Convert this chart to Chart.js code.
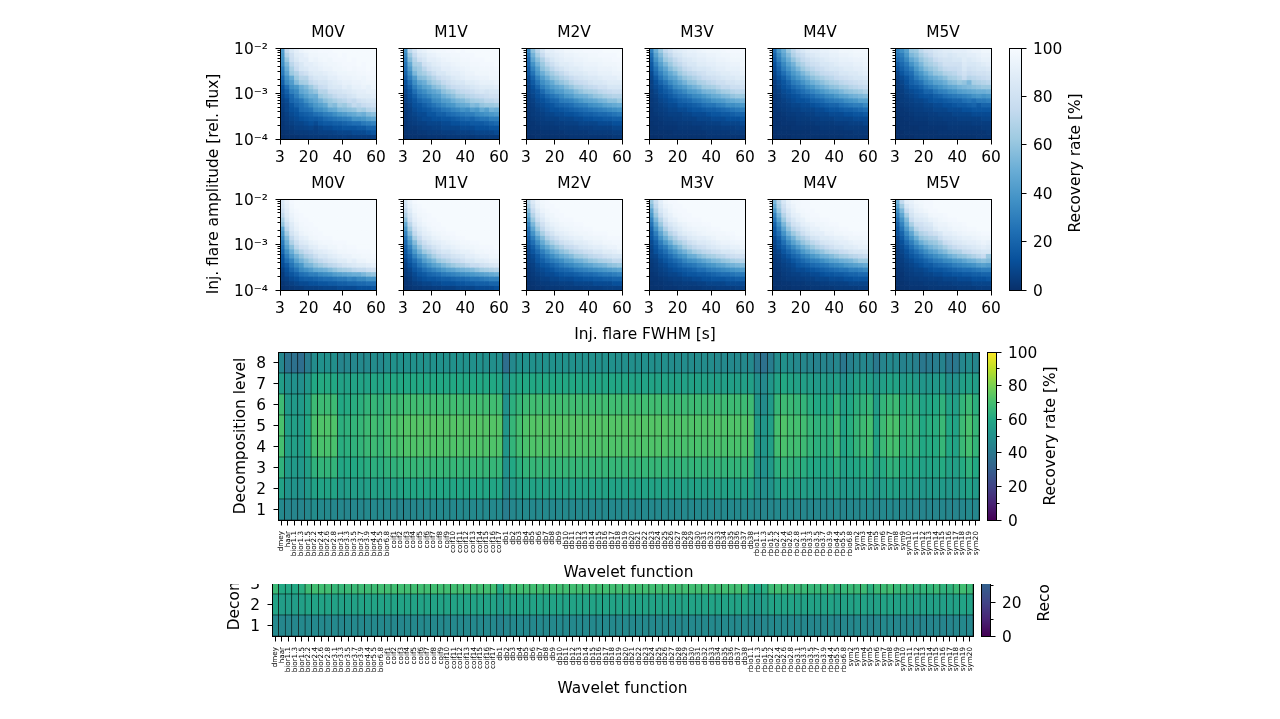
<!DOCTYPE html>
<html>
<head>
<meta charset="utf-8">
<title>Flare recovery rates</title>
<script src="https://cdn.jsdelivr.net/npm/chart.js@4"></script>
<style>
  html, body { margin: 0; background: #fff; overflow: hidden; }
  #page { position: relative; width: 1280px; height: 719px; font-family: "DejaVu Sans"; color: #000; filter: blur(0.45px); }
  #page canvas { position: absolute; }
  #lowerClip { position: absolute; left: 0; top: 584px; width: 1280px; height: 135px; overflow: hidden; }
  .lbl { position: absolute; font-size: 15.4px; white-space: nowrap; transform: translate(-50%, -50%); }
  .vert { transform: translate(-50%, -50%) rotate(-90deg); }
</style>
</head>
<body>
<div id="page">
  <div class="lbl vert" style="left:213px;top:184px">Inj. flare amplitude [rel. flux]</div>
  <div class="lbl" style="left:645px;top:334px">Inj. flare FWHM [s]</div>
  <div id="lowerClip"></div>
</div>
<script>
// axes of the small panels
const fwhmEdges = [3,5.85,8.7,11.55,14.4,17.25,20.1,22.95,25.8,28.65,31.5,34.35,37.2,40.05,42.9,45.75,48.6,51.45,54.3,57.15,60];
const ampEdges = [1e-4,1.26e-4,1.58e-4,2e-4,2.51e-4,3.16e-4,3.98e-4,5.01e-4,6.31e-4,7.94e-4,1e-3,1.26e-3,1.58e-3,2e-3,2.51e-3,3.16e-3,3.98e-3,5.01e-3,6.31e-3,7.94e-3,1e-2];
const fwhmTicks = [3,20,40,60];
const starTypes = ["M0V","M1V","M2V","M3V","M4V","M5V"];

// recovery rate, rows written from the highest amplitude down
const m0vUpper = [
[42,75,85,90,94,96,97,97,98,98,98,99,99,99,99,99,99,99,99,99],
[40,70,80,88,90,93,96,96,97,97,98,98,99,98,99,99,99,99,99,99],
[38,62,78,85,90,90,95,94,96,97,96,98,98,98,99,98,99,99,99,99],
[36,55,72,80,85,90,90,92,94,95,96,96,97,98,98,98,99,98,99,99],
[30,50,66,76,84,86,90,90,92,94,94,96,96,97,98,97,98,98,99,98],
[28,45,62,68,76,80,86,88,88,90,92,93,95,95,96,96,97,97,98,98],
[22,38,48,62,70,70,80,84,86,86,90,90,93,94,94,95,96,95,97,97],
[18,34,42,56,64,66,74,78,82,82,86,88,90,92,92,94,94,95,96,96],
[12,24,36,40,50,55,62,70,76,78,84,86,86,90,88,92,92,94,92,95],
[10,18,30,34,46,50,56,60,70,70,78,80,82,84,86,88,90,90,92,92],
[8,14,22,30,38,44,50,50,62,66,70,74,78,78,82,84,88,88,88,90],
[6,10,20,24,28,36,42,46,52,58,62,66,70,72,76,74,80,82,84,84],
[5,8,14,20,24,28,34,40,44,48,58,56,64,62,68,74,72,76,78,80],
[4,8,12,14,22,24,26,34,36,40,46,48,54,56,58,60,66,64,70,72],
[3,6,10,12,16,18,20,24,26,30,32,36,40,42,46,48,52,50,56,58],
[3,5,8,10,12,14,16,16,18,22,24,26,28,30,32,38,38,40,44,46],
[2,4,6,8,8,10,12,10,14,16,16,18,18,20,22,24,24,28,30,32],
[2,3,4,6,6,7,8,6,8,10,10,12,12,14,14,14,16,16,20,20],
[1,2,3,4,4,4,5,5,6,6,6,7,8,8,8,10,10,10,12,14],
[0,1,1,1,2,2,3,3,3,3,4,4,4,5,4,5,5,5,5,6]];
const m1vUpper = [
[38,72,82,90,92,95,96,97,97,98,98,99,98,99,99,99,99,99,99,99],
[34,62,76,86,88,92,93,95,96,96,97,97,98,98,98,99,99,99,99,99],
[30,56,70,80,84,90,90,92,94,95,96,96,97,97,98,98,98,99,99,99],
[26,48,66,68,80,84,88,90,92,92,94,95,96,96,97,97,98,98,98,99],
[24,42,60,64,72,80,84,86,90,90,92,93,94,95,96,96,97,97,97,98],
[20,36,54,62,66,72,78,84,84,88,90,90,92,94,94,96,96,96,97,97],
[16,30,42,56,58,64,70,76,80,82,86,88,90,92,92,93,94,94,96,96],
[12,24,36,46,50,58,64,68,74,78,82,84,84,88,88,90,92,92,92,94],
[10,18,30,38,44,48,56,60,66,72,76,78,80,82,84,86,88,88,88,90],
[8,14,24,32,36,42,46,50,58,62,66,72,74,76,78,82,84,82,84,84],
[6,12,18,26,30,34,40,42,50,54,58,64,66,70,72,74,76,78,80,80],
[6,10,14,20,24,26,34,36,42,44,50,54,56,60,64,66,68,72,72,74],
[4,8,12,14,18,22,26,30,34,38,40,46,48,50,56,54,60,62,62,64],
[4,6,10,12,14,16,20,22,26,28,32,34,38,36,42,40,48,44,52,50],
[3,6,8,10,10,14,14,18,18,22,24,26,28,30,30,34,36,38,40,42],
[3,5,6,8,10,10,12,12,14,14,16,18,20,22,20,24,26,26,30,30],
[2,4,5,6,6,8,8,8,10,10,12,12,14,14,16,16,16,18,20,22],
[2,3,3,4,5,5,6,6,8,8,8,8,10,10,10,12,12,12,14,14],
[1,2,2,3,3,4,4,4,5,5,5,6,6,6,7,8,8,8,8,10],
[0,1,1,1,1,2,2,2,2,3,3,3,3,3,3,4,4,4,4,4]];
const m2vUpper = [
[32,58,72,82,90,90,93,94,96,96,97,97,98,98,98,98,99,99,99,99],
[26,52,66,76,86,88,90,92,94,94,95,96,96,97,97,98,98,98,98,99],
[22,46,58,68,78,84,88,90,92,92,94,94,95,96,96,96,97,97,98,98],
[20,38,52,62,72,78,84,88,88,90,92,92,94,94,94,95,96,96,96,97],
[16,32,44,58,64,72,78,82,86,88,88,90,92,92,92,94,94,94,95,96],
[14,26,40,50,58,64,70,74,80,84,86,86,88,90,90,92,92,92,94,94],
[10,20,32,42,50,58,62,68,72,76,80,82,84,86,86,88,90,90,90,92],
[8,16,26,36,42,48,56,60,64,70,74,76,78,82,84,84,86,88,88,88],
[6,12,20,30,36,42,46,50,56,60,66,68,72,74,76,80,80,84,84,84],
[6,10,14,22,30,34,40,42,48,50,56,60,64,66,68,72,74,76,78,78],
[4,8,12,16,22,26,30,34,40,42,48,50,52,56,60,62,66,68,70,70],
[4,6,10,12,16,20,22,28,30,32,36,40,44,46,48,52,54,58,58,62],
[3,5,8,10,12,14,18,20,22,24,28,30,32,36,38,40,44,46,48,50],
[3,4,6,8,10,12,12,14,16,18,20,22,24,26,28,30,32,34,36,38],
[2,4,5,6,8,8,10,10,12,12,14,16,18,18,20,22,22,24,26,28],
[2,3,4,5,6,6,6,8,8,8,10,10,12,12,14,14,16,16,18,18],
[2,2,3,4,4,4,5,5,6,6,6,8,8,8,8,10,10,10,12,12],
[1,2,2,3,3,3,3,4,4,4,4,5,5,5,6,6,6,6,8,8],
[1,1,1,2,2,2,2,2,3,3,3,3,3,4,4,4,4,4,5,5],
[0,0,1,1,1,1,1,1,1,2,2,2,2,2,2,2,2,2,3,3]];
const m3vUpper = [
[30,50,62,74,80,86,88,90,92,92,94,95,96,96,96,97,98,98,98,98],
[24,44,56,68,74,82,84,88,90,90,92,92,94,94,95,96,96,97,97,97],
[20,38,50,62,68,74,80,84,86,88,90,90,92,92,94,94,95,96,96,96],
[16,32,44,54,62,70,74,80,84,84,88,88,90,90,92,92,93,94,94,96],
[14,26,38,46,56,62,68,74,78,82,84,84,86,88,90,90,92,92,92,94],
[10,22,32,40,48,54,62,68,72,74,78,80,84,84,86,88,88,90,90,92],
[8,16,26,34,42,46,54,60,64,68,72,76,78,80,82,84,86,86,88,88],
[6,12,20,26,34,40,46,52,58,60,66,68,72,74,78,78,82,82,84,84],
[6,10,14,20,26,34,38,42,48,52,56,62,64,66,70,74,74,78,78,80],
[4,8,12,16,20,26,30,34,40,42,46,52,54,56,60,64,66,70,72,72],
[4,6,10,12,16,20,24,26,30,34,36,40,44,48,50,54,56,60,62,62],
[3,5,8,10,12,14,18,20,22,26,28,32,34,38,40,42,46,48,50,52],
[3,4,6,8,10,10,14,14,16,18,20,24,26,26,30,32,36,36,38,40],
[2,4,5,6,8,8,10,10,12,14,14,16,18,18,20,22,24,26,28,30],
[2,3,4,5,6,6,6,8,8,10,10,10,12,14,14,16,16,18,20,20],
[2,2,3,4,4,5,5,6,6,6,8,8,8,10,10,10,12,12,12,14],
[1,2,2,3,3,3,4,4,4,5,5,5,6,6,6,8,8,8,8,10],
[1,1,2,2,2,2,3,3,3,3,3,4,4,4,4,5,5,5,6,6],
[1,1,1,1,1,2,2,2,2,2,2,2,3,3,3,3,3,4,4,4],
[0,0,0,1,1,1,1,1,1,1,1,1,2,2,2,2,2,2,2,2]];
const m4vUpper = [
[24,40,50,62,72,80,84,88,90,90,92,92,94,94,96,96,96,97,97,97],
[20,34,46,56,68,74,78,84,86,88,90,90,92,92,94,94,95,96,96,96],
[16,30,40,50,60,68,74,78,82,84,86,88,90,90,92,92,93,94,94,95],
[12,24,34,44,52,62,68,74,78,80,84,84,86,88,90,90,90,92,92,94],
[10,20,30,38,46,54,62,68,72,76,78,82,84,84,86,88,88,90,90,92],
[8,16,24,32,40,46,54,60,66,70,74,76,78,80,84,84,86,86,88,90],
[6,12,18,26,34,40,46,52,58,62,66,70,72,76,78,80,82,84,84,86],
[5,10,14,20,28,32,38,44,50,54,58,62,66,68,72,74,76,78,80,82],
[4,8,12,16,22,26,30,36,40,46,50,54,58,60,64,66,70,72,74,76],
[4,6,10,12,16,20,24,28,32,36,40,44,48,50,54,58,60,62,64,68],
[3,5,8,10,12,14,18,20,24,28,30,34,36,40,44,46,50,52,54,56],
[3,4,6,8,10,12,12,14,18,20,22,26,28,30,32,36,38,40,44,44],
[2,4,5,6,8,8,10,10,12,14,16,18,20,20,24,26,28,30,30,34],
[2,3,4,5,6,6,8,8,8,10,10,12,14,14,16,18,18,20,22,24],
[2,2,3,4,4,5,5,6,6,8,8,8,10,10,10,12,12,14,14,16],
[1,2,2,3,3,4,4,4,5,5,6,6,6,8,8,8,8,10,10,10],
[1,1,2,2,2,3,3,3,3,4,4,4,4,5,5,5,6,6,6,8],
[1,1,1,1,2,2,2,2,2,2,3,3,3,3,3,4,4,4,4,4],
[0,1,1,1,1,1,1,1,2,2,2,2,2,2,2,2,2,3,3,3],
[0,0,0,0,1,1,1,1,1,1,1,1,1,1,1,2,2,2,2,2]];
const m5vUpper = [
[30,36,44,60,62,72,78,80,84,86,88,88,90,90,90,92,94,94,96,96],
[26,30,40,54,58,66,72,76,82,84,86,84,86,88,88,90,90,92,94,94],
[22,26,34,46,52,60,66,70,76,80,82,82,84,84,88,86,88,90,92,92],
[16,22,28,38,46,54,62,66,70,74,80,80,80,80,86,84,84,86,88,90],
[12,18,24,30,40,48,56,60,64,70,74,76,76,78,84,80,82,84,84,86],
[8,14,20,24,34,40,48,54,60,62,68,70,72,76,80,76,78,80,80,82],
[6,10,14,20,28,34,40,46,50,54,58,64,66,70,76,70,72,74,76,78],
[4,8,12,18,22,26,34,38,44,46,50,56,58,62,60,54,66,68,70,72],
[4,6,10,14,16,20,26,30,34,38,42,46,48,52,54,56,58,60,62,62],
[3,5,8,10,12,14,20,20,26,30,32,36,38,42,44,46,48,50,50,52],
[3,4,6,8,10,12,14,14,18,20,24,26,28,30,32,34,38,40,38,40],
[2,4,5,6,8,8,10,12,14,14,16,18,20,20,24,26,24,28,28,30],
[2,3,4,5,6,6,8,8,10,10,12,12,14,16,16,18,20,16,20,20],
[2,2,3,4,5,5,6,6,8,8,8,10,10,10,12,12,14,14,14,14],
[1,2,2,3,4,4,4,5,5,6,6,6,8,8,8,8,10,10,10,10],
[1,1,2,2,3,3,3,4,4,4,5,5,5,6,6,6,6,6,8,8],
[1,1,1,2,2,2,2,3,3,3,3,4,4,4,4,4,5,5,5,5],
[0,1,1,1,1,2,2,2,2,2,2,3,3,3,3,3,3,3,4,4],
[0,0,1,1,1,1,1,1,1,2,2,2,2,2,2,2,2,2,2,3],
[0,0,0,0,1,1,1,1,1,1,1,1,1,1,1,1,1,2,2,2]];
const m0vLower = [
[86,94,98,99,99,99,99,99,99,99,99,99,99,99,99,99,99,99,99,99],
[84,92,97,99,99,99,99,99,99,99,99,99,99,99,99,99,99,99,99,99],
[80,90,96,98,99,99,99,99,99,99,99,99,99,99,99,99,99,99,99,99],
[74,88,94,97,98,99,99,99,99,99,99,99,99,99,99,99,99,99,99,99],
[66,84,92,96,98,98,99,99,99,99,99,99,99,99,99,99,99,99,99,99],
[60,78,88,94,97,98,98,99,99,99,99,99,99,99,99,99,99,99,99,99],
[46,72,86,92,96,97,98,98,99,99,99,99,99,99,99,99,99,99,99,99],
[40,64,82,88,94,96,97,98,98,99,99,99,99,99,99,99,99,99,99,99],
[34,56,74,84,90,92,96,97,98,98,98,99,99,99,99,99,99,99,99,99],
[28,50,68,78,86,88,92,94,96,97,97,98,98,98,99,99,99,99,99,99],
[24,44,58,72,80,82,88,90,94,94,96,96,98,97,98,98,99,99,99,99],
[20,36,50,62,70,76,80,86,88,90,92,94,96,96,97,97,98,98,98,99],
[14,30,42,52,60,68,72,78,84,84,88,90,92,94,94,96,96,97,97,98],
[12,24,32,44,52,58,64,70,74,78,82,84,88,88,92,90,94,94,96,96],
[10,16,26,34,40,52,54,60,64,68,72,74,78,82,84,86,88,88,90,92],
[6,12,20,26,34,38,42,48,50,52,56,60,64,66,68,72,74,74,78,80],
[4,10,14,18,24,26,30,30,34,36,38,42,44,46,48,50,50,54,58,60],
[4,6,10,12,16,18,18,20,22,24,24,26,28,28,32,30,34,34,38,38],
[2,4,6,8,10,10,12,12,14,14,16,16,18,18,20,20,22,22,24,24],
[1,2,3,4,4,6,6,6,7,8,8,8,10,10,10,10,12,12,12,14]];
const m1vLower = [
[84,94,98,99,99,99,99,99,99,99,99,99,99,99,99,99,99,99,99,99],
[80,92,96,98,99,99,99,99,99,99,99,99,99,99,99,99,99,99,99,99],
[74,88,95,97,98,99,99,99,99,99,99,99,99,99,99,99,99,99,99,99],
[68,84,92,96,97,98,99,99,99,99,99,99,99,99,99,99,99,99,99,99],
[58,80,90,94,97,98,98,99,99,99,99,99,99,99,99,99,99,99,99,99],
[48,72,86,92,95,97,98,98,99,99,99,99,99,99,99,99,99,99,99,99],
[40,64,80,88,92,95,97,98,98,99,99,99,99,99,99,99,99,99,99,99],
[32,56,74,84,90,92,95,96,97,98,98,99,99,99,99,99,99,99,99,99],
[26,46,66,76,86,88,92,94,96,96,97,98,98,99,99,99,99,99,99,99],
[22,40,56,70,78,84,88,90,92,94,95,96,97,97,98,98,99,99,99,99],
[18,32,48,60,72,76,82,86,90,90,92,94,95,96,96,97,98,98,98,99],
[14,26,40,52,62,68,74,80,84,84,88,90,92,92,94,96,96,97,97,98],
[12,20,32,42,50,58,66,72,76,78,82,84,86,90,90,92,94,94,96,96],
[8,16,24,32,42,48,54,62,66,70,74,76,80,84,84,88,88,90,92,92],
[6,12,18,26,32,38,44,48,54,58,62,66,68,72,76,76,80,82,84,86],
[4,8,14,18,24,28,32,36,40,44,46,50,52,54,56,60,64,66,68,70],
[4,6,10,14,16,20,22,24,28,30,32,34,36,38,40,42,44,46,48,50],
[2,4,8,10,12,14,14,16,18,18,20,22,22,24,26,26,28,30,32,32],
[2,3,5,6,8,8,10,10,12,12,12,14,14,16,16,18,18,18,20,20],
[1,2,3,3,4,4,5,5,6,6,6,8,8,8,8,10,10,10,10,12]];
const m2vLower = [
[70,86,94,97,98,99,99,99,99,99,99,99,99,99,99,99,99,99,99,99],
[64,82,92,96,98,98,99,99,99,99,99,99,99,99,99,99,99,99,99,99],
[56,76,88,94,96,98,98,99,99,99,99,99,99,99,99,99,99,99,99,99],
[48,70,84,90,95,96,98,98,99,99,99,99,99,99,99,99,99,99,99,99],
[40,62,78,86,92,95,96,98,98,98,99,99,99,99,99,99,99,99,99,99],
[32,54,70,80,88,92,94,96,97,97,98,98,99,99,99,99,99,99,99,99],
[26,46,62,74,84,88,92,94,95,96,97,97,98,98,99,99,99,99,99,99],
[22,38,54,66,76,82,88,90,92,94,95,96,96,97,98,98,98,99,99,99],
[18,30,44,56,68,74,80,86,88,90,92,92,95,95,96,96,97,98,98,98],
[14,24,36,48,58,66,72,78,82,84,88,88,90,92,94,94,96,96,97,97],
[10,18,28,40,48,56,62,68,74,76,80,84,86,88,90,90,92,94,94,96],
[8,14,22,30,38,46,52,58,62,68,72,74,78,80,84,84,88,88,90,92],
[6,10,16,24,30,36,42,48,52,56,62,64,68,72,74,76,80,82,84,84],
[6,8,14,18,24,28,32,36,42,44,50,52,56,60,62,66,68,70,74,74],
[4,6,10,14,16,20,24,28,32,34,38,40,44,46,50,52,54,58,60,62],
[3,5,8,10,12,14,18,20,22,24,28,30,32,34,36,38,40,42,44,46],
[2,4,6,8,10,10,12,14,16,16,18,20,22,22,24,26,28,28,30,32],
[2,3,4,6,6,8,8,10,10,10,12,12,14,14,16,16,18,18,20,20],
[1,2,3,4,4,5,5,6,6,6,8,8,8,8,10,10,10,10,12,12],
[1,1,2,2,3,3,3,3,4,4,4,4,5,5,5,5,6,6,6,6]];
const m3vLower = [
[62,78,90,96,98,98,99,99,99,99,99,99,99,99,99,99,99,99,99,99],
[56,74,88,94,96,98,98,99,99,99,99,99,99,99,99,99,99,99,99,99],
[46,68,84,90,95,97,98,98,99,99,99,99,99,99,99,99,99,99,99,99],
[40,62,78,88,92,96,97,98,98,99,99,99,99,99,99,99,99,99,99,99],
[32,54,70,82,90,92,96,97,98,98,98,99,99,99,99,99,99,99,99,99],
[26,46,62,76,84,88,92,94,96,97,97,98,98,99,99,99,99,99,99,99],
[20,38,54,68,78,84,88,92,94,95,96,96,97,98,98,99,99,99,99,99],
[16,30,46,58,70,76,84,88,90,92,94,95,96,96,97,97,98,98,99,99],
[14,24,38,50,60,68,76,80,86,88,90,90,92,94,96,96,96,97,98,98],
[10,18,30,40,50,60,66,72,78,82,86,86,88,90,92,94,94,95,96,96],
[8,14,24,30,40,48,56,64,70,74,78,80,84,86,88,90,90,92,92,94],
[6,12,18,24,32,38,46,52,58,64,68,72,74,78,80,84,84,86,88,88],
[6,8,14,18,24,30,36,40,48,50,56,60,64,66,70,72,76,78,80,80],
[4,6,10,14,18,22,26,32,36,38,42,46,50,54,56,60,62,66,68,70],
[3,5,8,10,14,16,20,24,26,28,32,34,38,40,44,46,50,52,54,56],
[3,4,6,8,10,12,14,16,18,20,24,24,28,30,32,34,36,38,40,42],
[2,3,5,6,8,8,10,12,14,14,16,16,18,20,22,24,24,26,28,28],
[2,2,3,4,5,6,6,8,8,10,10,12,12,14,14,14,16,16,18,18],
[1,2,2,3,3,4,4,5,5,5,6,6,8,8,8,8,10,10,10,10],
[1,1,1,2,2,2,3,3,3,3,3,4,4,4,5,5,5,5,6,6]];
const m4vLower = [
[54,70,84,92,96,97,98,98,99,99,99,99,99,99,99,99,99,99,99,99],
[48,66,80,90,94,97,98,98,99,99,99,99,99,99,99,99,99,99,99,99],
[40,60,76,86,92,96,97,98,98,99,99,99,99,99,99,99,99,99,99,99],
[32,52,70,82,90,92,96,97,98,98,99,99,99,99,99,99,99,99,99,99],
[26,44,62,76,84,90,92,96,97,97,98,98,99,99,99,99,99,99,99,99],
[20,36,54,68,80,84,90,92,94,96,96,97,98,98,99,99,99,99,99,99],
[16,30,46,60,72,78,84,88,92,92,95,96,96,97,98,98,99,99,99,99],
[14,24,38,52,62,70,78,84,88,90,90,94,94,96,96,97,97,98,98,98],
[10,18,30,42,52,62,68,74,82,84,88,88,90,92,92,94,96,96,96,97],
[8,14,24,34,44,52,60,66,72,76,82,84,86,88,90,90,92,94,94,95],
[6,12,18,26,34,42,50,56,62,68,72,76,80,84,84,88,88,90,92,92],
[5,8,14,20,26,32,40,46,52,56,60,66,70,72,76,78,82,84,84,86],
[4,6,10,14,20,24,30,34,40,44,50,52,56,60,64,66,70,72,74,76],
[3,5,8,10,14,18,22,26,30,32,36,40,44,46,50,52,54,58,62,62],
[3,4,6,8,10,14,16,18,22,24,26,28,32,34,36,40,42,44,46,48],
[2,3,5,6,8,10,10,12,14,16,18,20,22,24,26,26,30,30,32,34],
[2,2,4,5,6,6,8,8,10,10,12,14,14,16,16,18,20,20,22,22],
[1,2,3,4,4,5,5,6,6,8,8,8,10,10,10,12,12,14,14,14],
[1,1,2,2,3,3,3,4,4,4,5,5,6,6,6,6,8,8,8,8],
[0,1,1,1,2,2,2,2,3,3,3,3,3,4,4,4,4,4,5,5]];
const m5vLower = [
[50,74,90,92,96,97,98,98,99,99,99,99,99,99,99,99,99,99,99,99],
[44,64,84,90,94,96,98,98,99,99,99,99,99,99,99,99,99,99,99,99],
[36,54,76,86,92,94,96,98,98,99,99,99,99,99,99,99,99,99,99,99],
[30,46,66,82,88,90,92,96,97,97,98,99,99,99,99,99,99,99,99,99],
[24,38,56,76,84,86,88,92,94,96,97,98,98,99,99,99,99,99,99,99],
[18,32,50,66,78,80,84,86,92,94,94,96,97,97,98,99,99,99,99,99],
[14,26,42,56,70,76,80,82,88,92,92,94,96,96,97,98,98,99,99,99],
[12,20,34,46,60,68,72,76,80,84,90,90,92,94,95,96,96,97,98,98],
[8,16,28,38,50,60,64,68,70,78,84,86,88,90,92,92,94,95,96,96],
[6,12,22,30,40,50,56,60,62,68,76,80,84,86,88,90,90,92,94,92],
[5,10,16,24,32,38,46,52,56,60,66,72,76,80,82,84,86,88,90,88],
[4,8,12,18,24,30,36,42,46,52,56,62,66,68,74,76,80,82,84,84],
[4,6,10,14,18,22,28,32,36,40,44,50,54,58,60,64,68,72,76,62],
[3,5,8,10,14,16,20,24,28,30,34,36,40,42,46,50,52,56,58,56],
[3,4,6,8,10,12,16,16,20,22,24,26,30,32,34,36,38,42,44,42],
[2,3,5,6,8,8,10,12,14,14,16,18,20,22,24,24,26,28,30,30],
[2,2,4,5,6,6,8,8,10,10,12,12,14,14,16,16,18,18,20,20],
[1,2,3,4,4,5,5,6,6,6,8,8,8,10,10,10,12,12,12,14],
[1,1,2,3,3,3,4,4,4,5,5,5,6,6,6,6,8,8,8,8],
[0,1,1,2,2,2,2,3,3,3,3,3,3,4,4,4,4,5,5,5]];

// wavelet grids
const wavelets = ["dmey","haar","bior1.1","bior1.3","bior1.5","bior2.2","bior2.4","bior2.6","bior2.8","bior3.1","bior3.3","bior3.5","bior3.7","bior3.9","bior4.4","bior5.5","bior6.8",
"coif1","coif2","coif3","coif4","coif5","coif6","coif7","coif8","coif9","coif10","coif11","coif12","coif13","coif14","coif15","coif16","coif17",
"db1","db2","db3","db4","db5","db6","db7","db8","db9","db10","db11","db12","db13","db14","db15","db16","db17","db18","db19","db20","db21","db22","db23","db24","db25","db26","db27","db28","db29","db30","db31","db32","db33","db34","db35","db36","db37","db38",
"rbio1.1","rbio1.3","rbio1.5","rbio2.2","rbio2.4","rbio2.6","rbio2.8","rbio3.1","rbio3.3","rbio3.5","rbio3.7","rbio3.9","rbio4.4","rbio5.5","rbio6.8",
"sym2","sym3","sym4","sym5","sym6","sym7","sym8","sym9","sym10","sym11","sym12","sym13","sym14","sym15","sym16","sym17","sym18","sym19","sym20"];
const levelTicks = [1,2,3,4,5,6,7,8];
const level8 = [46,38,37,36,42,48,50,50,49,45,46,46,47,47,48,47,49,
50,50,50,50,50,50,50,50,50,50,50,50,50,50,49,49,49,
36,
47,50,50,50,50,50,50,50,50,50,50,50,50,50,50,50,49,49,49,49,49,49,49,49,48,48,48,48,48,48,48,47,47,47,47,47,47,
40,37,42,
48,50,48,47,46,45,44,45,44,46,40,43,
46,46,45,40,45,47,47,44,45,43,40,41,42,44,39,40,46,48,45];
const level7 = [55,50,50,49,53,60,61,61,60,57,57,58,58,58,59,58,60,
60,60,60,60,60,60,60,60,60,60,60,60,60,60,60,60,59,
50,
58,60,60,60,60,60,60,60,60,60,60,59,59,59,59,59,59,59,58,58,58,58,58,58,57,57,57,57,57,57,56,56,56,56,56,56,56,
50,47,52,
58,60,58,57,56,55,54,55,54,56,50,53,
57,57,56,52,56,58,58,54,56,54,52,52,53,55,50,50,56,57,55];
const level6 = [68,54,54,54,58,68,68,68,68,60,61,62,63,65,66,64,67,
67,68,69,69,69,69,69,69,69,69,69,69,69,69,69,69,69,
50,
63,66,68,69,69,69,69,69,69,69,69,69,69,69,69,69,69,69,69,69,69,69,69,69,68,68,68,68,68,68,68,68,68,68,68,68,68,
52,48,54,
66,68,67,66,65,62,60,61,60,66,56,59,
63,64,66,55,65,67,68,61,64,63,58,59,60,64,58,56,65,68,63];
const level5 = [71,56,56,55,60,71,72,72,72,63,64,65,66,68,69,67,70,
71,72,73,73,73,73,73,73,73,73,73,73,73,73,73,73,73,
52,
66,70,72,73,73,73,73,73,73,73,73,73,73,73,73,73,73,73,73,73,73,73,73,73,72,72,72,72,72,72,72,72,72,72,72,72,72,
55,52,56,
70,72,70,70,69,66,64,65,64,70,58,62,
66,68,70,58,68,71,71,64,67,66,60,62,62,67,60,58,68,71,66];
const level4 = [70,56,56,55,60,70,71,71,71,62,63,64,65,67,68,66,69,
70,71,72,72,72,72,72,72,72,72,72,72,72,72,72,72,72,
52,
65,69,71,72,72,72,72,72,72,72,72,72,72,72,72,72,72,72,72,72,72,72,72,72,71,71,71,71,71,71,71,71,71,71,71,71,71,
55,52,56,
69,71,69,69,68,65,63,64,63,69,58,61,
65,67,69,58,67,70,70,63,66,65,60,61,61,66,60,58,67,70,65];
const level3 = [64,54,54,53,56,64,65,65,65,59,60,60,61,62,63,62,64,
64,65,66,66,66,66,66,66,66,66,66,66,66,66,66,66,66,
50,
60,63,65,66,66,66,66,66,66,66,66,66,66,66,66,66,66,66,66,66,66,66,66,66,65,65,65,65,65,65,65,65,65,65,65,65,65,
53,50,54,
63,65,64,63,62,60,59,59,59,63,56,58,
60,61,63,55,61,64,64,59,61,60,57,58,58,61,57,56,61,64,60];
const level2 = [57,51,51,50,53,57,58,58,58,54,55,55,55,56,57,56,57,
57,58,59,59,59,59,59,59,59,59,59,59,59,59,59,59,59,
48,
54,56,57,58,58,58,58,58,58,58,58,58,58,58,58,58,58,58,58,58,58,58,58,58,58,57,57,57,57,57,57,57,57,57,57,57,57,
51,49,51,
56,58,57,56,56,55,54,54,54,56,52,53,
54,55,56,51,55,57,57,54,55,54,52,53,53,54,52,52,55,57,54];
const level1 = [47,45,45,45,46,48,47,47,46,46,45,46,46,47,47,47,47,
46,45,45,46,46,47,47,47,47,47,47,47,47,47,47,47,47,
42,
46,47,47,47,47,47,47,47,47,47,47,47,47,47,47,47,47,47,47,47,47,47,47,47,47,47,47,47,47,47,47,47,47,47,47,47,47,
46,45,46,
47,47,47,47,46,46,46,46,46,47,45,46,
46,47,47,45,47,47,47,46,46,46,45,45,45,46,45,45,46,47,46];
const lowerLevel3 = [67,60,60,60,62,68,69,69,69,66,66,67,67,68,68,68,69,
69,69,69,69,69,69,69,69,69,69,69,69,69,69,69,69,69,
60,
67,68,69,69,69,69,69,69,69,69,69,69,69,69,69,69,69,69,69,69,69,69,69,69,69,69,69,69,69,69,69,69,69,69,69,69,69,
62,60,62,
68,69,68,68,67,67,66,66,66,68,64,66,
67,67,68,63,67,68,69,66,67,66,64,65,65,67,64,64,67,69,67];
const lowerLevel2 = [58,55,55,55,56,58,58,58,58,57,57,57,57,58,58,58,58,
58,58,58,58,58,58,58,58,58,58,58,58,58,58,58,58,58,
54,
57,58,58,58,58,58,58,58,58,58,58,58,58,58,58,58,58,58,58,58,58,58,58,58,58,58,58,58,58,58,58,58,58,58,58,58,58,
55,54,55,
58,58,58,58,57,57,57,57,57,58,56,57,
57,58,58,56,57,58,58,57,57,57,56,56,56,57,56,56,57,58,57];
const lowerLevel1 = [47,46,46,46,47,47,47,47,47,47,46,47,47,47,47,47,47,
47,46,46,47,47,47,47,47,47,47,47,47,47,47,47,47,47,
44,
46,47,47,47,47,47,47,47,47,47,47,47,47,47,47,47,47,47,47,47,47,47,47,47,47,47,47,47,47,47,47,47,47,47,47,47,47,
46,45,46,
47,47,47,47,47,46,46,46,46,47,45,46,
46,47,47,45,46,47,47,46,46,46,45,45,45,46,45,45,46,47,46];

const upperCbarTicks = [0,20,40,60,80,100];
const waveletCbarTicks = [0,10,20,30,40,50,60,70,80,90,100];

const blues = ["#08306b","#08519c","#2171b5","#4292c6","#6baed6","#9ecae1","#c6dbef","#deebf7","#f7fbff"];
const viridis = ["#440154","#482475","#414487","#355f8d","#2a788e","#21918c","#22a884","#44bf70","#7ad151","#bddf26","#fde725"];

const FONT = "DejaVu Sans";
const TEXT = 15.4;
Chart.defaults.font.family = FONT;
Chart.defaults.color = "#000";
Chart.defaults.animation = false;

function hexRgb(h) { return [1, 3, 5].map(i => parseInt(h.slice(i, i + 2), 16)); }
function colorAt(stops, v) {
  const t = Math.max(0, Math.min(1, v / 100)) * (stops.length - 1);
  const i = Math.min(Math.floor(t), stops.length - 2);
  const a = hexRgb(stops[i]), b = hexRgb(stops[i + 1]);
  const c = a.map((x, k) => Math.round(x + (b[k] - x) * (t - i)));
  return `rgb(${c[0]},${c[1]},${c[2]})`;
}

// keep the plot box exactly where asked, labels may hang over it
function fixScale(s, size) {
  if (s.axis === "x") s.height = size; else s.width = size;
  s.paddingLeft = s.paddingRight = s.paddingTop = s.paddingBottom = 0;
}

const noGrid = { display: false, drawTicks: false, offset: false };

// two line label with a tiny line height, nudges y tick text down to sit on the tick
const yTickFont = { size: TEXT, lineHeight: "3px" };
function nudged(text) { return text === "" ? "" : ["", text]; }

// box and tick marks in the matplotlib look
const framePlugin = {
  id: "frame",
  afterDraw(chart) {
    const { ctx, chartArea: a } = chart;
    ctx.save();
    ctx.strokeStyle = "#000";
    ctx.lineWidth = 1;
    ctx.strokeRect(a.left + 0.5, a.top + 0.5, a.right - a.left, a.bottom - a.top);
    ctx.beginPath();
    Object.values(chart.scales).forEach(scale => {
      if (scale.options.display === false) return;
      scale.ticks.forEach((t, i) => {
        const p = Math.floor(scale.getPixelForTick(i)) + 0.5;
        let minor = t.label === "";
        if (scale.type === "logarithmic") {
          const l = Math.log10(t.value);
          minor = Math.abs(l - Math.round(l)) > 1e-6;
        }
        const len = minor ? 2.5 : 4.5;
        if (scale.axis === "x") {
          ctx.moveTo(p, a.bottom + 1);
          ctx.lineTo(p, a.bottom + 1 + len);
        } else if (scale.position === "right") {
          ctx.moveTo(a.right + 1, p);
          ctx.lineTo(a.right + 1 + len, p);
        } else {
          ctx.moveTo(a.left, p);
          ctx.lineTo(a.left - len, p);
        }
      });
    });
    ctx.stroke();
    ctx.restore();
  }
};

// text reading upwards next to a colour bar
const sideLabelPlugin = {
  id: "sideLabel",
  afterDraw(chart, args, opts) {
    if (!opts.text) return;
    const { ctx } = chart;
    ctx.save();
    ctx.translate(opts.x, opts.y);
    ctx.rotate(-Math.PI / 2);
    ctx.font = `${TEXT}px "${FONT}"`;
    ctx.fillStyle = "#000";
    ctx.textAlign = "center";
    ctx.textBaseline = "middle";
    ctx.fillText(opts.text, 0, 0);
    ctx.restore();
  }
};

function addCanvas(parent, left, top, w, h, offsetTop) {
  const c = document.createElement("canvas");
  c.width = w;
  c.height = h;
  c.style.left = left + "px";
  c.style.top = (top - (offsetTop || 0)) + "px";
  c.style.width = w + "px";
  c.style.height = h + "px";
  parent.appendChild(c);
  return c;
}

const superDigits = { "-": "\u207b", "2": "\u00b2", "3": "\u00b3", "4": "\u2074" };
function logLabel(v) {
  const l = Math.log10(v);
  if (Math.abs(l - Math.round(l)) > 1e-6) return "";
  return "10" + String(Math.round(l)).split("").map(c => superDigits[c]).join("");
}

function recoveryPanel(name, cells, plotLeft, plotTop, showY) {
  const yW = 56, titleH = 24, xH = 30, rightPad = 16, plotW = 96, plotH = 91;
  const canvas = addCanvas(document.getElementById("page"), plotLeft - yW, plotTop - titleH, yW + plotW + rightPad, titleH + plotH + xH);
  const centers = fwhmEdges.slice(0, -1).map((e, i) => (e + fwhmEdges[i + 1]) / 2);
  const datasets = cells.map((row, r) => {
    const k = cells.length - 1 - r;
    return {
      data: row.map((v, i) => ({ x: centers[i], y: [ampEdges[k], ampEdges[k + 1]] })),
      backgroundColor: row.map(v => colorAt(blues, v)),
      borderWidth: 0,
      barPercentage: 1,
      categoryPercentage: 1,
      grouped: false
    };
  });
  new Chart(canvas, {
    type: "bar",
    data: { datasets },
    plugins: [framePlugin],
    options: {
      responsive: false,
      layout: { padding: { right: rightPad } },
      plugins: {
        legend: { display: false },
        tooltip: { enabled: false },
        title: {
          display: true, text: name, fullSize: false, color: "#000",
          font: { size: TEXT, lineHeight: "17px", weight: "normal" },
          padding: { top: 0, bottom: 7 }
        }
      },
      scales: {
        x: {
          type: "linear", offset: false, min: 3, max: 60,
          grid: noGrid, border: { display: false },
          afterBuildTicks: s => { s.ticks = fwhmTicks.map(v => ({ value: v })); },
          afterFit: s => fixScale(s, xH),
          ticks: { font: { size: TEXT }, padding: 10, maxRotation: 0, autoSkip: false, callback: v => String(v) }
        },
        y: {
          type: "logarithmic", min: 1e-4, max: 1e-2,
          grid: noGrid, border: { display: false },
          afterFit: s => fixScale(s, yW),
          ticks: { font: yTickFont, padding: 12, autoSkip: false, callback: v => showY ? nudged(logLabel(v)) : "" }
        }
      }
    }
  });
}

function colorBar(parent, stops, left, top, w, h, tickList, labelEvery, label, labelX, labelY, offsetTop) {
  const pad = 10, axisW = 100;
  const canvas = addCanvas(parent, left, top - pad, w + axisW, h + 2 * pad, offsetTop);
  new Chart(canvas, {
    type: "bar",
    data: {
      labels: [""],
      datasets: [{
        data: [[0, 100]],
        barPercentage: 1,
        categoryPercentage: 1,
        borderWidth: 0,
        inflateAmount: 0,
        backgroundColor: ctx => {
          const a = ctx.chart.chartArea;
          if (!a) return stops[0];
          const y = ctx.chart.scales.y;
          const g = ctx.chart.ctx.createLinearGradient(0, y.getPixelForValue(0), 0, y.getPixelForValue(100));
          stops.forEach((s, i) => g.addColorStop(i / (stops.length - 1), s));
          return g;
        }
      }]
    },
    plugins: [framePlugin, sideLabelPlugin],
    options: {
      responsive: false,
      layout: { padding: { top: pad, bottom: pad } },
      plugins: {
        legend: { display: false },
        tooltip: { enabled: false },
        sideLabel: { text: label, x: labelX - left, y: labelY - top + pad }
      },
      scales: {
        x: { display: false },
        y: {
          position: "right", min: 0, max: 100,
          grid: noGrid, border: { display: false },
          afterBuildTicks: s => { s.ticks = tickList.map(v => ({ value: v })); },
          afterFit: s => fixScale(s, axisW),
          ticks: { font: yTickFont, padding: 12, autoSkip: false, callback: v => v % labelEvery ? "" : nudged(String(v)) }
        }
      }
    }
  });
}

function waveletGrid(parent, rows, plotLeft, plotTop, offsetTop) {
  const yW = 46, xH = 62, plotW = 701, plotH = 168, rightPad = 8, topPad = 10;
  const canvas = addCanvas(parent, plotLeft - yW, plotTop - topPad, yW + plotW + rightPad, topPad + plotH + xH, offsetTop);
  const datasets = rows.map((row, r) => ({
    data: row.map(v => [r + 0.5, r + 1.5]),
    backgroundColor: row.map(v => colorAt(viridis, v)),
    borderColor: "#000",
    borderWidth: 0.6,
    borderSkipped: false,
    barPercentage: 1,
    categoryPercentage: 1,
    grouped: false
  }));
  new Chart(canvas, {
    type: "bar",
    data: { labels: wavelets, datasets },
    plugins: [framePlugin],
    options: {
      responsive: false,
      layout: { padding: { top: topPad, right: rightPad } },
      plugins: { legend: { display: false }, tooltip: { enabled: false } },
      scales: {
        x: {
          grid: noGrid, border: { display: false },
          afterFit: s => fixScale(s, xH),
          title: { display: true, text: "Wavelet function", font: { size: TEXT }, padding: { top: 0, bottom: 0 } },
          ticks: { font: { size: 7.2 }, padding: 11, minRotation: 90, maxRotation: 90, autoSkip: false }
        },
        y: {
          min: 0.5, max: 8.5,
          grid: noGrid, border: { display: false },
          afterBuildTicks: s => { s.ticks = levelTicks.map(v => ({ value: v })); },
          afterFit: s => fixScale(s, yW),
          title: { display: true, text: "Decomposition level", font: { size: TEXT }, padding: { top: 0, bottom: 0 } },
          ticks: { font: yTickFont, padding: 12, autoSkip: false, callback: v => nudged(String(v)) }
        }
      }
    }
  });
}

const upperRow = [m0vUpper, m1vUpper, m2vUpper, m3vUpper, m4vUpper, m5vUpper];
const lowerRow = [m0vLower, m1vLower, m2vLower, m3vLower, m4vLower, m5vLower];
starTypes.forEach((name, i) => {
  recoveryPanel(name, upperRow[i], 280 + 123 * i, 48, i === 0);
  recoveryPanel(name, lowerRow[i], 280 + 123 * i, 199, i === 0);
});

const page = document.getElementById("page");
const lowerClip = document.getElementById("lowerClip");
colorBar(page, blues, 1009, 48, 12, 242, upperCbarTicks, 20, "Recovery rate [%]", 1076, 163);
waveletGrid(page, [level1, level2, level3, level4, level5, level6, level7, level8], 278, 352, 0);
colorBar(page, viridis, 987, 352, 9, 168, waveletCbarTicks, 20, "Recovery rate [%]", 1051, 436);
waveletGrid(lowerClip, [lowerLevel1, lowerLevel2, lowerLevel3], 272, 468, 584);
colorBar(lowerClip, viridis, 981, 468, 9, 168, waveletCbarTicks, 20, "Recovery rate [%]", 1045, 552, 584);
</script>
</body>
</html>
